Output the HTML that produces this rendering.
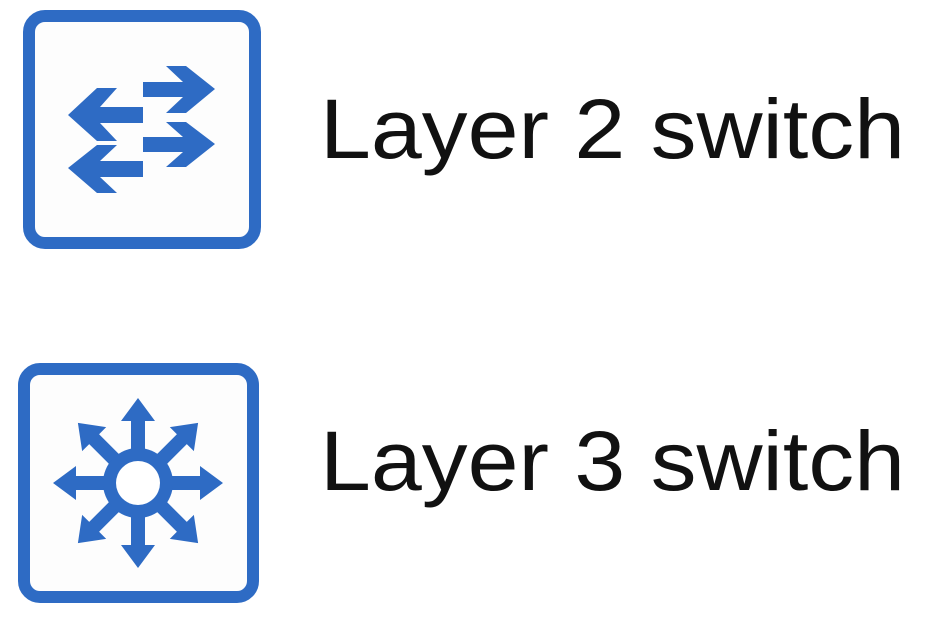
<!DOCTYPE html>
<html><head><meta charset="utf-8"><style>
html,body{margin:0;padding:0;background:#fff;width:942px;height:621px;overflow:hidden}
svg{display:block}
text{font-family:"Liberation Sans",sans-serif;fill:#111}
</style></head><body>
<svg width="942" height="621" viewBox="0 0 942 621">
  <g>
    <rect x="29" y="16" width="226" height="227" rx="16" fill="#fdfdfd" stroke="#2e6bc4" stroke-width="12"/>
    <g fill="#2e6bc4">
      <polygon points="68,115 97,88 117,88 100,107 143,107 143,123 100,123 117,141 97,141"/>
      <polygon points="68,168 97,145 117,145 100,161 143,161 143,177 100,177 117,193 97,193"/>
      <polygon points="215,89 186,66 166,66 183,82 143,82 143,97 183,97 166,113 186,113"/>
      <polygon points="215,144 186,122 166,122 183,137 143,137 143,152 183,152 166,167 186,167"/>
    </g>
  </g>
  <text x="320" y="158" font-size="84" textLength="585" lengthAdjust="spacingAndGlyphs">Layer 2 switch</text>

  <g>
    <rect x="24" y="369" width="229" height="228" rx="16" fill="#fdfdfd" stroke="#2e6bc4" stroke-width="12"/>
    <g fill="#2e6bc4" transform="translate(138,483)">
      <g id="arr"><polygon points="-7,-30 -7,-62 -17,-62 0,-85 17,-62 7,-62 7,-30"/></g>
      <use href="#arr" transform="rotate(45)"/>
      <use href="#arr" transform="rotate(90)"/>
      <use href="#arr" transform="rotate(135)"/>
      <use href="#arr" transform="rotate(180)"/>
      <use href="#arr" transform="rotate(225)"/>
      <use href="#arr" transform="rotate(270)"/>
      <use href="#arr" transform="rotate(315)"/>
      <circle r="35" fill="#2e6bc4"/>
      <circle r="22" fill="#fff"/>
    </g>
  </g>
  <text x="320" y="490" font-size="84" textLength="585" lengthAdjust="spacingAndGlyphs">Layer 3 switch</text>
</svg>
</body></html>
